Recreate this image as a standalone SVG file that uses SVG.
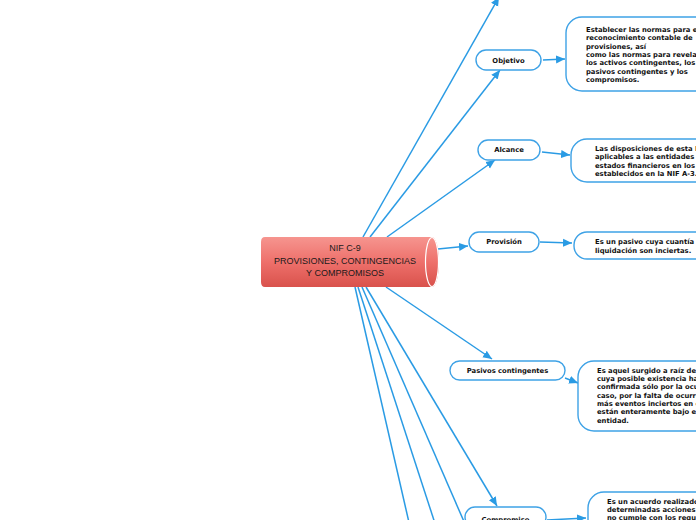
<svg xmlns="http://www.w3.org/2000/svg" width="696" height="520" viewBox="0 0 696 520">
<defs>
<linearGradient id="cyl" x1="0" y1="0" x2="0" y2="1">
<stop offset="0" stop-color="#f6958f"/>
<stop offset="0.5" stop-color="#ee706b"/>
<stop offset="1" stop-color="#d9524c"/>
</linearGradient>
<marker id="arr" markerUnits="userSpaceOnUse" markerWidth="10" markerHeight="10" viewBox="0 0 10 10" refX="9" refY="5" orient="auto">
<path d="M0,1 L9,5 L0,9 Z" fill="#2a9be4"/>
</marker>
<style>
.c{fill:none;stroke:#2a9be4;stroke-width:1.5;marker-end:url(#arr)}
.n{fill:#fff;stroke:#3ea2e6;stroke-width:1.4}
.l{font-family:"DejaVu Sans",Verdana,sans-serif;font-weight:bold;font-size:6.8px;fill:#111}
.m{text-anchor:middle}
.ct{font-family:"Liberation Sans",Arial,sans-serif;font-size:9px;fill:#1a1a1a;text-anchor:middle}
</style>
</defs>
<rect width="696" height="520" fill="#fff"/>
<g id="connectors">
<line class="c" x1="363" y1="237" x2="499" y2="-3"/>
<line class="c" x1="370" y1="237" x2="500" y2="70"/>
<line class="c" x1="387" y1="237" x2="495" y2="160"/>
<line class="c" x1="438" y1="249" x2="468" y2="246"/>
<line class="c" x1="386" y1="287" x2="492" y2="359"/>
<line class="c" x1="366" y1="287" x2="497" y2="506"/>
<line class="c" x1="362" y1="287" x2="472" y2="540"/>
<line class="c" x1="358" y1="287" x2="443" y2="548"/>
<line class="c" x1="355" y1="287" x2="413" y2="540"/>
<line class="c" x1="543" y1="60" x2="565" y2="59"/>
<line class="c" x1="542" y1="152" x2="570" y2="155"/>
<line class="c" x1="540" y1="242" x2="572" y2="243"/>
<line class="c" x1="565" y1="378" x2="578" y2="383"/>
<line class="c" x1="547" y1="520" x2="586" y2="518"/>
</g>
<g id="central">
<path d="M265,237 H432 A7,25 0 0 1 432,287 H265 Q261,287 261,282 V242 Q261,237 265,237 Z" fill="url(#cyl)"/>
<ellipse cx="432" cy="262" rx="6.5" ry="24.5" fill="url(#cyl)" stroke="#fff" stroke-width="1.2"/>
<text class="ct" x="345" y="251">NIF C-9</text>
<text class="ct" x="345" y="264">PROVISIONES, CONTINGENCIAS</text>
<text class="ct" x="345" y="276">Y COMPROMISOS</text>
</g>
<g id="objetivo">
<rect class="n" x="476" y="50" width="65" height="20" rx="10"/>
<text class="l m" x="508.5" y="62.7">Objetivo</text>
</g>
<g id="objetivo-desc">
<rect class="n" x="566" y="17" width="200" height="74" rx="16"/>
<text class="l" x="586" y="31.7">Establecer las normas para el</text>
<text class="l" x="586" y="40.1">reconocimiento contable de</text>
<text class="l" x="586" y="48.6">provisiones, así</text>
<text class="l" x="586" y="57">como las normas para revelar</text>
<text class="l" x="586" y="65.4">los activos contingentes, los</text>
<text class="l" x="586" y="73.9">pasivos contingentes y los</text>
<text class="l" x="586" y="82.3">compromisos.</text>
</g>
<g id="alcance">
<rect class="n" x="478" y="140" width="62" height="20" rx="10"/>
<text class="l m" x="509" y="152.3">Alcance</text>
</g>
<g id="alcance-desc">
<rect class="n" x="571" y="139" width="200" height="43" rx="16"/>
<text class="l" x="595" y="151">Las disposiciones de esta NIF son</text>
<text class="l" x="595" y="159.3">aplicables a las entidades que</text>
<text class="l" x="595" y="167.6">estados financieros en los</text>
<text class="l" x="595" y="175.9">establecidos en la NIF A-3.</text>
</g>
<g id="provision">
<rect class="n" x="469" y="232" width="70" height="20" rx="10"/>
<text class="l m" x="504" y="244.3">Provisión</text>
</g>
<g id="provision-desc">
<rect class="n" x="574" y="232" width="200" height="27" rx="13"/>
<text class="l" x="595" y="244">Es un pasivo cuya cuantía o fecha de</text>
<text class="l" x="595" y="253.3">liquidación son inciertas.</text>
</g>
<g id="pasivos">
<rect class="n" x="450" y="361" width="115" height="19" rx="9.5"/>
<text class="l m" x="507.5" y="373">Pasivos contingentes</text>
</g>
<g id="pasivos-desc">
<rect class="n" x="578" y="361" width="200" height="70" rx="16"/>
<text class="l" x="597" y="372.7">Es aquel surgido a raíz de sucesos</text>
<text class="l" x="597" y="381">cuya posible existencia ha de</text>
<text class="l" x="597" y="389.4">confirmada sólo por la ocurrencia</text>
<text class="l" x="597" y="397.7">caso, por la falta de ocurrencia</text>
<text class="l" x="597" y="406">más eventos inciertos en el</text>
<text class="l" x="597" y="414.4">están enteramente bajo el</text>
<text class="l" x="597" y="422.7">entidad.</text>
</g>
<g id="compromiso">
<rect class="n" x="465" y="507" width="81" height="20" rx="10"/>
<text class="l m" x="505.5" y="521.5">Compromiso</text>
</g>
<g id="compromiso-desc">
<rect class="n" x="588" y="492" width="200" height="70" rx="16"/>
<text class="l" x="607" y="503.7">Es un acuerdo realizado</text>
<text class="l" x="607" y="512">determinadas acciones</text>
<text class="l" x="607" y="520.4">no cumple con los requisitos</text>
</g>
</svg>
